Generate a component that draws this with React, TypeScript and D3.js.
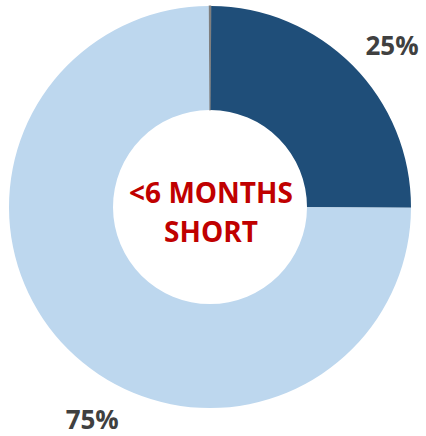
import React from 'react';
import * as d3 from 'd3';

const categories = ['Divider', '<6 months short', 'Other'];
const values = [0.2, 25, 75];
const colors = ['#7f7f7f', '#1f4e79', '#bdd7ee'];
const labels = ['25%', '75%'];
const labelAngles = [48.5, 209]; // degrees clockwise from 12 o'clock
const centerLines = ['<6 MONTHS', 'SHORT'];

const width = 426;
const height = 436;
const cx = 210;
const cy = 207;
const outerR = 201;
const innerR = 97;

export default function App() {
  const total = d3.sum(values);
  const half = (values[0] / total) * Math.PI; // centre the thin divider on 12 o'clock
  const pie = d3.pie<number>().sort(null).value(d => d)
    .startAngle(-half).endAngle(2 * Math.PI - half);
  const arcs = pie(values);
  const arc = d3.arc<d3.PieArcDatum<number>>().innerRadius(innerR).outerRadius(outerR);
  const labelR = 243;

  return (
    <div style={{ position: 'fixed', left: 0, top: 0 }}>
      <svg width={width} height={height} style={{ display: 'block', background: '#fff' }}>
        <g transform={`translate(${cx},${cy})`}>
          {arcs.map((a, i) => (
            <path
              key={categories[i]}
              d={arc(a) || ''}
              fill={colors[i]}
              stroke={i === 0 ? colors[i] : 'none'}
              strokeWidth={i === 0 ? 1 : 0}
            />
          ))}
          {labels.map((t, i) => {
            const ang = (labelAngles[i] * Math.PI) / 180;
            return (
              <text
                key={t}
                x={labelR * Math.sin(ang)}
                y={-labelR * Math.cos(ang)}
                dy="0.36em"
                textAnchor="middle"
                fontFamily="'Open Sans', sans-serif"
                fontWeight={700}
                fontSize={26}
                fill="#404040"
              >
                {t}
              </text>
            );
          })}
          {centerLines.map((t, i) => (
            <text
              key={t}
              x={1}
              y={-4 + i * 39}
              textAnchor="middle"
              fontFamily="'Open Sans', sans-serif"
              fontWeight={700}
              fontSize={28}
              fill="#c00000"
            >
              {t}
            </text>
          ))}
        </g>
      </svg>
    </div>
  );
}
